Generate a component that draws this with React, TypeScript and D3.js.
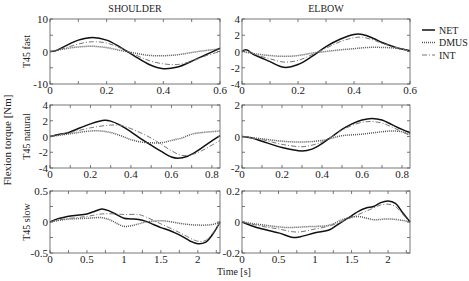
import * as d3 from 'd3';

type Pt = [number, number];

// Shoulder, T45 fast
const shFastNet: Pt[] = [[0,0],[0.02,0.2],[0.05,1.5],[0.1,3.5],[0.15,4.3],[0.2,3.5],[0.25,1.2],[0.3,-1.5],[0.35,-4],[0.4,-5.3],[0.45,-4.8],[0.5,-3],[0.55,-1],[0.6,1]];
const shFastInt: Pt[] = [[0,0],[0.05,1],[0.1,2.3],[0.15,3],[0.2,2.6],[0.25,1],[0.3,-1],[0.35,-2.8],[0.4,-3.8],[0.45,-4],[0.5,-3],[0.55,-1.3],[0.6,0]];
const shFastDmus: Pt[] = [[0,0],[0.05,0.8],[0.1,1.4],[0.15,1.6],[0.2,1.2],[0.25,0.3],[0.3,-0.5],[0.35,-1.2],[0.4,-1.3],[0.45,-1],[0.5,-0.3],[0.55,0.3],[0.6,0.8]];

// Elbow, T45 fast
const elFastNet: Pt[] = [[0,0],[0.01,0.2],[0.02,0.15],[0.04,-0.35],[0.07,-0.8],[0.1,-1.25],[0.15,-1.95],[0.2,-1.6],[0.25,-0.6],[0.3,0.6],[0.35,1.5],[0.4,2.1],[0.43,2.1],[0.47,1.6],[0.5,1.1],[0.55,0.5],[0.6,0.1]];
const elFastInt: Pt[] = [[0,0],[0.02,0.1],[0.05,-0.4],[0.1,-0.9],[0.15,-1.3],[0.2,-1.1],[0.25,-0.4],[0.3,0.4],[0.35,1.2],[0.4,1.7],[0.43,1.75],[0.47,1.4],[0.5,1],[0.55,0.5],[0.6,0]];
const elFastDmus: Pt[] = [[0,0],[0.05,-0.3],[0.1,-0.5],[0.15,-0.6],[0.2,-0.5],[0.25,-0.2],[0.3,0],[0.35,0.2],[0.4,0.35],[0.45,0.5],[0.5,0.5],[0.55,0.4],[0.6,0.1]];

// Shoulder, T45 natural
const shNatNet: Pt[] = [[0,0],[0.05,0.3],[0.08,0.4],[0.12,0.8],[0.2,1.6],[0.27,2.05],[0.3,1.95],[0.35,1.4],[0.4,0.6],[0.45,-0.3],[0.5,-1.1],[0.55,-1.9],[0.6,-2.6],[0.63,-2.75],[0.68,-2.5],[0.73,-1.8],[0.78,-0.9],[0.84,0.1]];
const shNatInt: Pt[] = [[0,0],[0.1,0.5],[0.2,1.1],[0.3,1.45],[0.35,1.4],[0.4,1],[0.5,-0.2],[0.55,-1],[0.6,-1.8],[0.65,-2.4],[0.7,-2.3],[0.75,-1.8],[0.8,-1.1],[0.84,-0.5]];
const shNatDmus: Pt[] = [[0,0],[0.1,0.35],[0.2,0.7],[0.25,0.7],[0.3,0.5],[0.35,0.1],[0.4,-0.4],[0.45,-0.7],[0.5,-0.8],[0.55,-0.8],[0.6,-0.5],[0.65,-0.2],[0.7,0.3],[0.75,0.5],[0.84,0.7]];

// Elbow, T45 natural
const elNatNet: Pt[] = [[0,0],[0.05,-0.1],[0.1,-0.3],[0.2,-0.7],[0.3,-0.92],[0.35,-0.8],[0.4,-0.45],[0.45,0],[0.5,0.45],[0.55,0.8],[0.6,1.05],[0.65,1.15],[0.7,1.05],[0.75,0.75],[0.8,0.45],[0.84,0.25]];
const elNatInt: Pt[] = [[0,0],[0.1,-0.2],[0.2,-0.5],[0.3,-0.65],[0.35,-0.55],[0.4,-0.35],[0.45,0],[0.5,0.4],[0.55,0.7],[0.6,0.9],[0.65,0.95],[0.7,0.85],[0.75,0.6],[0.8,0.3],[0.84,0.05]];
const elNatDmus: Pt[] = [[0,0],[0.1,-0.15],[0.2,-0.3],[0.3,-0.35],[0.4,-0.25],[0.45,-0.1],[0.5,0.05],[0.6,0.15],[0.7,0.3],[0.75,0.35],[0.8,0.3],[0.84,0.15]];

// Shoulder, T45 slow
const shSlowNet: Pt[] = [[0,0],[0.1,0.05],[0.3,0.1],[0.5,0.13],[0.6,0.17],[0.7,0.21],[0.8,0.18],[0.9,0.12],[1,0.06],[1.1,0.05],[1.2,0.04],[1.3,0.01],[1.4,-0.04],[1.5,-0.09],[1.6,-0.13],[1.7,-0.18],[1.8,-0.24],[1.9,-0.31],[2,-0.35],[2.1,-0.33],[2.2,-0.2],[2.3,0]];
const shSlowInt: Pt[] = [[0,0],[0.2,0.05],[0.5,0.09],[0.7,0.13],[0.9,0.13],[1,0.12],[1.2,0.12],[1.3,0.08],[1.5,-0.03],[1.7,-0.14],[1.8,-0.2],[2,-0.31],[2.1,-0.3],[2.2,-0.18],[2.3,0]];
const shSlowDmus: Pt[] = [[0,0],[0.2,0.04],[0.5,0.06],[0.7,0.07],[0.8,0.04],[0.9,-0.02],[1,-0.07],[1.1,-0.06],[1.2,-0.03],[1.3,0],[1.5,0.02],[1.6,0.01],[1.8,-0.03],[2,-0.05],[2.2,-0.04],[2.3,0]];

// Elbow, T45 slow
const elSlowNet: Pt[] = [[0,0],[0.2,-0.035],[0.5,-0.07],[0.7,-0.1],[0.8,-0.095],[1,-0.07],[1.2,-0.05],[1.3,-0.02],[1.5,0.04],[1.6,0.07],[1.7,0.09],[1.8,0.1],[1.9,0.125],[2,0.135],[2.1,0.12],[2.2,0.06],[2.3,0]];
const elSlowInt: Pt[] = [[0,0],[0.3,-0.03],[0.5,-0.045],[0.75,-0.065],[1,-0.045],[1.2,-0.025],[1.4,0.01],[1.6,0.05],[1.8,0.09],[1.9,0.11],[2,0.115],[2.1,0.1],[2.2,0.05],[2.3,0]];
const elSlowDmus: Pt[] = [[0,0],[0.3,-0.02],[0.6,-0.035],[0.9,-0.03],[1.2,-0.02],[1.4,0.02],[1.6,0.035],[1.8,0.015],[2,0.02],[2.2,0.01],[2.3,0]];

const columns = ['SHOULDER', 'ELBOW'];
const rows = ['T45 fast', 'T45 natural', 'T45 slow'];
const seriesNames = ['NET', 'DMUS', 'INT'];

const xDomains: [number, number][] = [[0, 0.6], [0, 0.84], [0, 2.3]];
const xTicks = [
  { minor: d3.range(0, 0.61, 0.1), major: [0, 0.2, 0.4, 0.6] },
  { minor: d3.range(0, 0.841, 0.1), major: [0, 0.2, 0.4, 0.6, 0.8] },
  { minor: d3.range(0, 2.31, 0.25), major: [0, 0.5, 1, 1.5, 2] },
];
const yDomains: [number, number][][] = [
  [[-10, 10], [-4, 4]],
  [[-4, 4], [-2, 2]],
  [[-0.5, 0.5], [-0.2, 0.2]],
];
const yTicks = [
  [{ minor: [-10, -5, 0, 5, 10], major: [-10, 0, 10] }, { minor: [-4, -2, 0, 2, 4], major: [-4, -2, 0, 2, 4] }],
  [{ minor: [-4, -2, 0, 2, 4], major: [-4, -2, 0, 2, 4] }, { minor: [-2, -1, 0, 1, 2], major: [-2, 0, 2] }],
  [{ minor: [-0.5, -0.25, 0, 0.25, 0.5], major: [-0.5, 0, 0.5] }, { minor: [-0.2, -0.1, 0, 0.1, 0.2], major: [-0.2, 0, 0.2] }],
];
// [row][col] -> [NET, DMUS, INT]
const panelData: Pt[][][][] = [
  [[shFastNet, shFastDmus, shFastInt], [elFastNet, elFastDmus, elFastInt]],
  [[shNatNet, shNatDmus, shNatInt], [elNatNet, elNatDmus, elNatInt]],
  [[shSlowNet, shSlowDmus, shSlowInt], [elSlowNet, elSlowDmus, elSlowInt]],
];

const colX = [[50, 220], [242, 410]];
const rowY = [[19, 84], [105, 168], [191, 253]];

const styles = [
  { stroke: '#111', width: 1.5, dash: undefined as string | undefined },
  { stroke: '#555', width: 1.5, dash: '1,1' },
  { stroke: '#777', width: 1, dash: '5,2,1,2' },
];

const FONT = "'Liberation Serif', 'Times New Roman', 'DejaVu Serif', serif";
const fmt = (v: number) => (Math.abs(v) < 1e-9 ? '0' : String(+v.toFixed(2)));

function Panel({ r, c }: { r: number; c: number }) {
  const [x0, x1] = colX[c];
  const [y0, y1] = rowY[r];
  const x = d3.scaleLinear().domain(xDomains[r]).range([x0, x1]);
  const y = d3.scaleLinear().domain(yDomains[r][c]).range([y1, y0]);
  const line = d3.line<Pt>().x(d => x(d[0])).y(d => y(d[1])).curve(d3.curveCatmullRom.alpha(0.5));
  const tl = 3;
  const axisColor = '#555';
  return (
    <g>
      {panelData[r][c].map((s, i) => (
        <path key={i} d={line(s) ?? ''} fill="none" stroke={styles[i].stroke}
          strokeWidth={styles[i].width} strokeDasharray={styles[i].dash} />
      ))}
      <rect x={x0} y={y0} width={x1 - x0} height={y1 - y0} fill="none" stroke={axisColor} strokeWidth={0.8} />
      {xTicks[r].minor.map((t, i) => (
        <g key={'xt' + i} stroke={axisColor} strokeWidth={0.8}>
          <line x1={x(t)} x2={x(t)} y1={y1} y2={y1 - tl} />
          <line x1={x(t)} x2={x(t)} y1={y0} y2={y0 + tl} />
        </g>
      ))}
      {yTicks[r][c].minor.map((t, i) => (
        <g key={'yt' + i} stroke={axisColor} strokeWidth={0.8}>
          <line x1={x0} x2={x0 + tl} y1={y(t)} y2={y(t)} />
          <line x1={x1} x2={x1 - tl} y1={y(t)} y2={y(t)} />
        </g>
      ))}
      {xTicks[r].major.map((t, i) => (
        <text key={'xl' + i} x={x(t)} y={y1 + 10} textAnchor="middle" fontSize={11} fill="#222">{fmt(t)}</text>
      ))}
      {yTicks[r][c].major.map((t, i) => (
        <text key={'yl' + i} x={x0 - 2} y={y(t) + 4} textAnchor="end" fontSize={11} fill="#222">{fmt(t)}</text>
      ))}
    </g>
  );
}

export default function App() {
  return (
    <svg width={469} height={281} style={{ position: 'absolute', left: 0, top: 0, background: '#fff', fontFamily: FONT }}>
      <rect width={469} height={281} fill="#fff" />
      {columns.map((t, c) => (
        <text key={t} x={(colX[c][0] + colX[c][1]) / 2} y={12} textAnchor="middle" fontSize={10} fill="#222">{t}</text>
      ))}
      {rows.map((t, r) => (
        <text key={t} transform={`translate(30,${(rowY[r][0] + rowY[r][1]) / 2}) rotate(-90)`}
          textAnchor="middle" fontSize={10} fill="#222">{t}</text>
      ))}
      <text transform="translate(11,140) rotate(-90)" textAnchor="middle" fontSize={11} fill="#222">Flexion torque [Nm]</text>
      <text x={234} y={275} textAnchor="middle" fontSize={10} fill="#222">Time [s]</text>
      {rows.map((_, r) => columns.map((__, c) => <Panel key={r + '-' + c} r={r} c={c} />))}
      {seriesNames.map((n, i) => (
        <g key={n}>
          <line x1={422} x2={435} y1={30 + i * 12.5} y2={30 + i * 12.5} stroke={styles[i].stroke}
            strokeWidth={styles[i].width} strokeDasharray={styles[i].dash} />
          <text x={439} y={30 + i * 12.5 + 3.5} fontSize={10} fill="#222">{n}</text>
        </g>
      ))}
    </svg>
  );
}
